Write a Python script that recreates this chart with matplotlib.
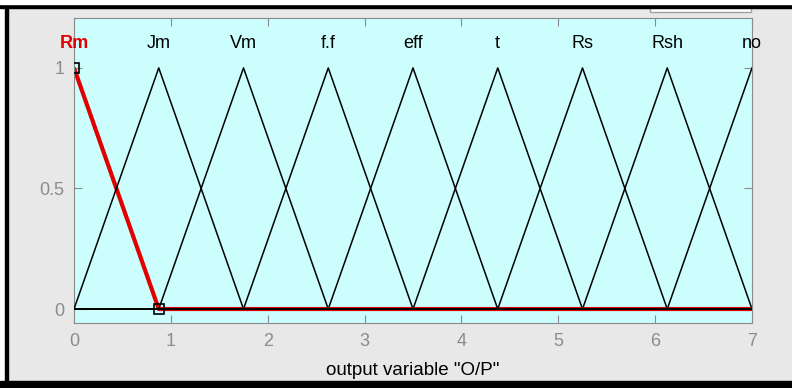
import numpy as np
import matplotlib.pyplot as plt
from matplotlib.patches import Rectangle

# funciones de pertenencia triangulares de la variable de salida
nombres = ["Rm", "Jm", "Vm", "f.f", "eff", "t", "Rs", "Rsh", "no"]
centros = [0, 0.875, 1.75, 2.625, 3.5, 4.375, 5.25, 6.125, 7]
ancho = 0.875
rango = [0, 7]
seleccionada = 0  # "Rm" aparece resaltada


def trimf(x, a, b, c):
    izq = np.where(b > a, (x - a) / (b - a + 1e-12), 1.0)
    der = np.where(c > b, (c - x) / (c - b + 1e-12), 1.0)
    return np.clip(np.minimum(izq, der), 0, 1)


plt.rcParams['font.family'] = ['Liberation Sans', 'DejaVu Sans']

fig = plt.figure(figsize=(7.92, 3.88), dpi=100)
fig.patch.set_facecolor('#e8e8e8')
ax = fig.add_axes([74 / 792, 1 - 323 / 388, 678 / 792, 305 / 388])
ax.set_facecolor('#ccfefe')

x = np.linspace(rango[0], rango[1], 1601)

# primero la curva seleccionada en rojo, luego las demás encima
c = centros[seleccionada]
y_sel = trimf(x, c - ancho, c, c + ancho)
ax.plot(x, y_sel, color='#e00000', lw=3, zorder=2, solid_capstyle='butt')

for i, c in enumerate(centros):
    if i == seleccionada:
        continue
    ax.plot(x, trimf(x, c - ancho, c, c + ancho), color='black', lw=1.1, zorder=3)

# marcadores de los vértices de la curva seleccionada
c = centros[seleccionada]
ax.plot([c, c + ancho], [1, 0], ls='none', marker='s', ms=7, mfc='none',
        mec='black', mew=1.2, zorder=4)

for i, (n, c) in enumerate(zip(nombres, centros)):
    if i == seleccionada:
        ax.text(c, 1.1, n, ha='center', va='center', color='#e00000',
                fontsize=13, fontweight='bold')
    else:
        ax.text(c, 1.1, n, ha='center', va='center', color='black', fontsize=13)

ax.set_xlim(rango)
ax.set_ylim(-0.058, 1.207)
ax.set_xticks(range(0, 8))
ax.set_yticks([0, 0.5, 1])
ax.set_yticklabels(['0', '0.5', '1'])
ax.tick_params(direction='in', top=True, right=True, colors='#8a8a8a',
               labelcolor='#8c8c8c', labelsize=13, length=6, pad=7)
for s in ax.spines.values():
    s.set_color('#8a8a8a')
ax.set_xlabel('output variable "O/P"', fontsize=13.5, color='black', labelpad=9)

# marco negro y recuadro superior
fig.patches.append(Rectangle((0, 0), 5 / 792, 1, transform=fig.transFigure,
                             color='white', zorder=10))
fig.patches.append(Rectangle((0, 1 - 8 / 388), 1, 4 / 388, transform=fig.transFigure,
                             color='black', zorder=10))
fig.patches.append(Rectangle((5 / 792, 0), 3 / 792, 1 - 4 / 388, transform=fig.transFigure,
                             color='black', zorder=10))
fig.patches.append(Rectangle((0, 0), 1, 7 / 388, transform=fig.transFigure,
                             color='black', zorder=10))
fig.patches.append(Rectangle((0, 1 - 4 / 388), 1, 4 / 388, transform=fig.transFigure,
                             color='white', zorder=10))
fig.patches.append(Rectangle((650 / 792, 1 - 12 / 388), 101 / 792, 5 / 388,
                             transform=fig.transFigure, facecolor='white',
                             edgecolor='#a0a0a0', lw=1, zorder=9))

fig.savefig('out.png', dpi=100, facecolor=fig.get_facecolor())
